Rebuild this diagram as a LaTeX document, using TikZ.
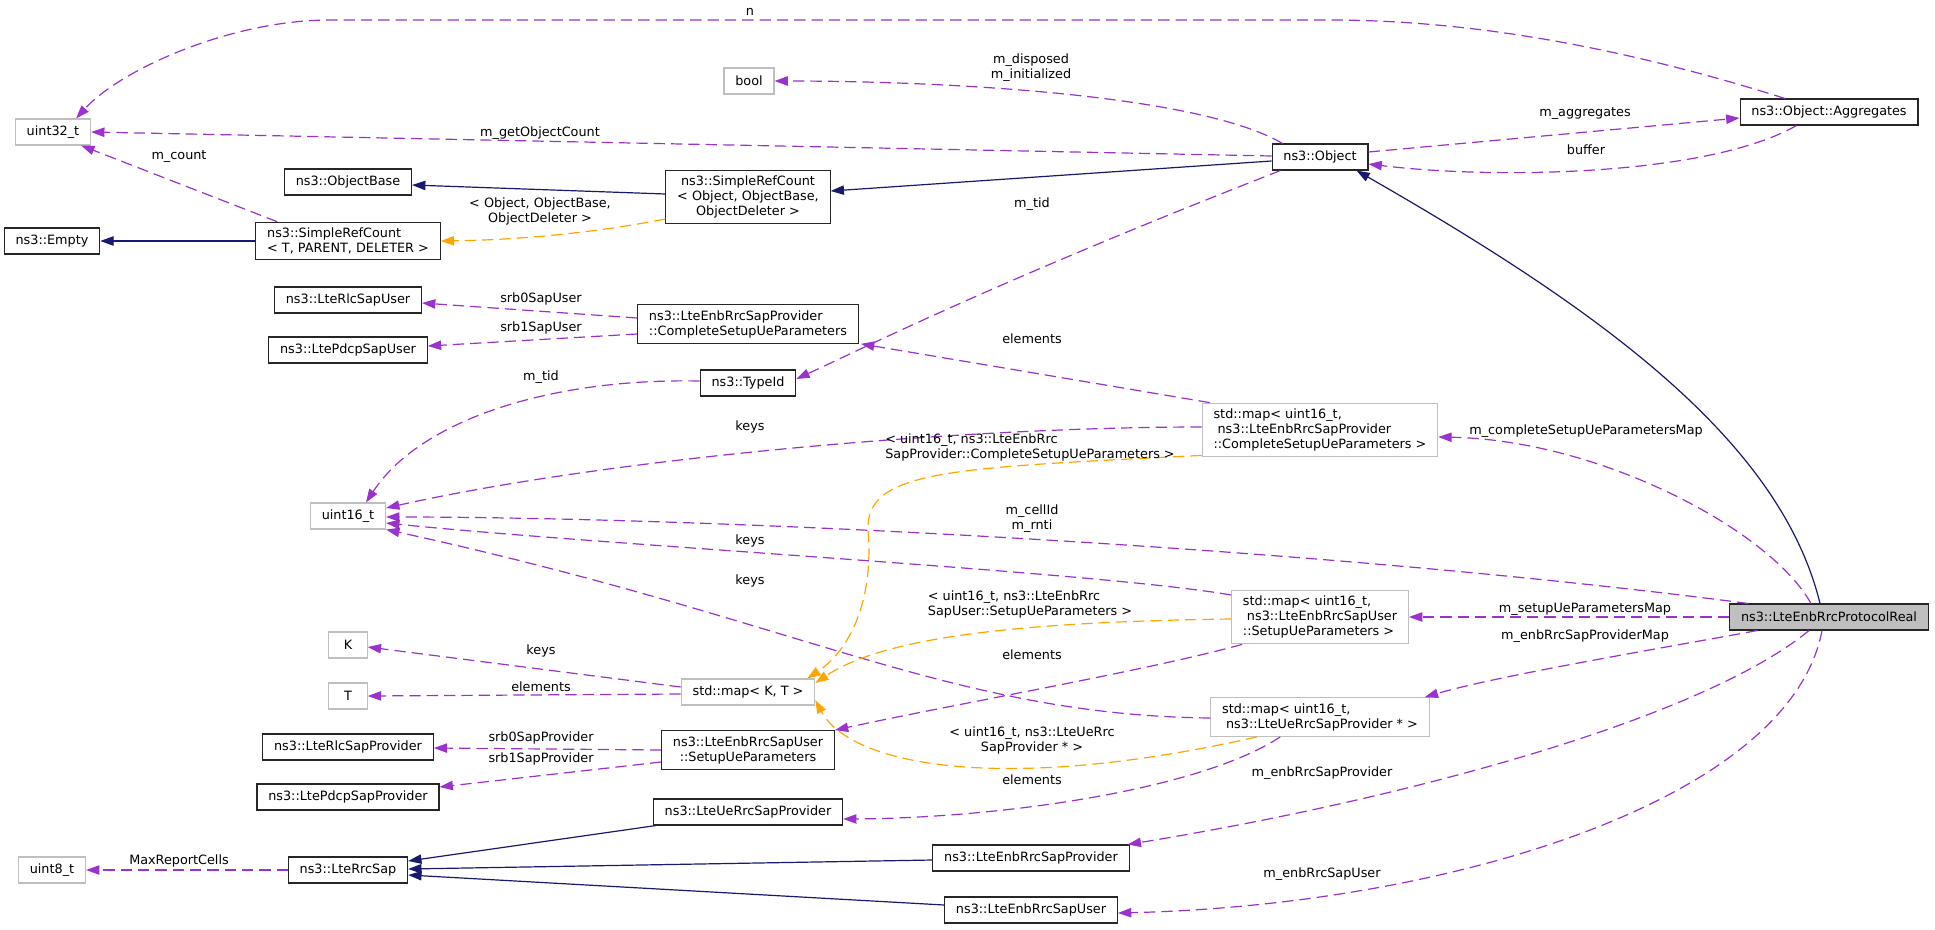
\documentclass[tikz,border=0pt]{standalone}
\usepackage{fontspec}
\setmainfont{DejaVu Sans}
\usetikzlibrary{arrows.meta,calc}
\definecolor{memcol}{HTML}{9A32CD}
\definecolor{tplcol}{HTML}{FFA500}
\definecolor{inhcol}{HTML}{191970}
\definecolor{boxgray}{HTML}{BFBFBF}
\tikzset{
  txt/.style={font=\fontsize{9.6}{11.3}\selectfont},
  cls/.style={txt, draw=black!85, fill=white, line width=0.8pt, inner xsep=8.5pt,
              inner ysep=4.2pt, minimum height=19.5pt, minimum width=28.8pt},
  ext/.style={cls, draw=boxgray},
  mainbox/.style={cls, fill=boxgray},
  lbl/.style={txt, inner sep=0pt},
  tip/.style={-{Triangle[length=10pt,width=7pt]}},
  mem/.style={tip, draw=memcol, line width=0.9pt, dash pattern=on 8.5pt off 4.5pt},
  tpl/.style={mem, draw=tplcol},
  inh/.style={tip, draw=inhcol, line width=0.9pt},
}
\begin{document}
\begin{tikzpicture}[x=0.75pt, y=-0.75pt]
\fill[white] (0,0) rectangle (1935,929);
\useasboundingbox (0,0) rectangle (1935,929);
% classes
\node[ext] (u32) at (53,132) {uint32\_t};
\node[ext] (boolt) at (749,81) {bool};
\node[cls] (objbase) at (348,182) {ns3::ObjectBase};
\node[cls] (empty) at (52,241) {ns3::Empty};
\node[cls, align=left] (srct) at (348,241) {ns3::SimpleRefCount\\< T, PARENT, DELETER >};
\node[cls, align=center] (srcobj) at (748,197) {ns3::SimpleRefCount\\< Object, ObjectBase,\\ObjectDeleter >};
\node[cls] (obj) at (1320,157) {ns3::Object};
\node[cls] (aggr) at (1829,112) {ns3::Object::Aggregates};
\node[cls] (rlcuser) at (348,300) {ns3::LteRlcSapUser};
\node[cls] (pdcpuser) at (348,350) {ns3::LtePdcpSapUser};
\node[cls, align=left] (csup) at (748,324) {ns3::LteEnbRrcSapProvider\\::CompleteSetupUeParameters};
\node[cls] (typeid) at (748,383) {ns3::TypeId};
\node[ext, align=left] (cmap) at (1320,430) {std::map< uint16\_t,\\\hspace*{3pt}ns3::LteEnbRrcSapProvider\\::CompleteSetupUeParameters >};
\node[ext] (u16) at (348,516) {uint16\_t};
\node[ext, align=left] (smap) at (1320,617) {std::map< uint16\_t,\\\hspace*{3pt}ns3::LteEnbRrcSapUser\\::SetupUeParameters >};
\node[mainbox] (proto) at (1829,617) {ns3::LteEnbRrcProtocolReal};
\node[ext] (ktype) at (348,645) {K};
\node[ext] (ttype) at (348,696) {T};
\node[ext] (kt) at (748,692) {std::map< K, T >};
\node[cls] (rlcprov) at (348,747) {ns3::LteRlcSapProvider};
\node[cls] (pdcpprov) at (348,797) {ns3::LtePdcpSapProvider};
\node[cls, align=center] (setupue) at (748,750) {ns3::LteEnbRrcSapUser\\::SetupUeParameters};
\node[ext, align=left] (umap) at (1320,717) {std::map< uint16\_t,\\\hspace*{3pt}ns3::LteUeRrcSapProvider * >};
\node[cls] (ueprov) at (748,812) {ns3::LteUeRrcSapProvider};
\node[ext] (u8) at (52,870) {uint8\_t};
\node[cls] (rrcsap) at (348,870) {ns3::LteRrcSap};
\node[cls] (eprov) at (1031,858) {ns3::LteEnbRrcSapProvider};
\node[cls] (euser) at (1031,910) {ns3::LteEnbRrcSapUser};
% members
\draw[mem] ($(aggr.north)+(-44,0)$) .. controls (1600,40) and (1450,20) .. (1330,20) -- (330,20)
  .. controls (230,20) and (120,70) .. ($(u32.north east)+(-15,0)$);
\draw[mem] ($(obj.west)+(0,-1)$) -- (u32.east);
\draw[mem] ($(obj.north west)+(11,0)$) .. controls (1200,95) and (950,81) .. (boolt.east);
\draw[mem] ($(srct.north west)+(22,0)$) -- ($(u32.south east)+(-10,0)$);
\draw[mem] ($(obj.south west)+(9,0)$) .. controls (1000,280) and (870,345) .. ($(typeid.east)+(0,-4)$);
\draw[mem] ($(obj.east)+(0,-5)$) -- ($(aggr.west)+(0,6)$);
\draw[mem] ($(aggr.south west)+(57,0)$) .. controls (1710,175) and (1500,180) .. ($(obj.east)+(0,7)$);
\draw[mem] ($(csup.west)+(0,-6)$) -- ($(rlcuser.east)+(0,3)$);
\draw[mem] ($(csup.west)+(0,10)$) -- ($(pdcpuser.east)+(0,-4)$);
\draw[mem] ($(typeid.west)+(0,-2)$) .. controls (550,378) and (420,420) .. ($(u16.north)+(18,0)$);
\draw[mem] ($(cmap.north west)+(8,0)$) -- ($(csup.south east)+(2,0)$);
\draw[mem] ($(cmap.west)+(0,-3)$) .. controls (950,427) and (600,460) .. ($(u16.east)+(0,-8)$);
\draw[mem] ($(proto.north)+(-18,0)$) .. controls (1770,530) and (1600,440) .. ($(cmap.east)+(0,7)$);
\draw[mem] ($(proto.north west)+(19,0)$) .. controls (1300,545) and (700,517) .. ($(u16.east)+(0,1)$);
\draw[mem] ($(smap.west)+(0,-22)$) .. controls (1100,572) and (600,545) .. ($(u16.east)+(0,7)$);
\draw[mem] ($(umap.west)+(0,1)$) .. controls (950,715) and (800,620) .. (u16.south east);
\draw[mem] (proto.west) -- (smap.east);
\draw[mem] ($(smap.south west)+(11,0)$) .. controls (1150,670) and (950,705) .. (setupue.north east);
\draw[mem] ($(kt.west)+(0,-5)$) -- ($(ktype.east)+(0,2)$);
\draw[mem] ($(kt.west)+(0,2)$) -- (ttype.east);
\draw[mem] (setupue.west) -- ($(rlcprov.east)+(0,1)$);
\draw[mem] ($(setupue.west)+(0,12)$) -- ($(pdcpprov.east)+(0,-10)$);
\draw[mem] ($(proto.south west)+(28,0)$) .. controls (1680,645) and (1500,675) .. ($(umap.north east)+(-5,0)$);
\draw[mem] ($(umap.south west)+(70,0)$) .. controls (1200,790) and (1000,818) .. ($(ueprov.east)+(0,7)$);
\draw[mem] ($(proto.south)+(-20,0)$) .. controls (1700,720) and (1400,800) .. ($(eprov.north east)+(-2,0)$);
\draw[mem] ($(proto.south)+(-7,0)$) .. controls (1790,800) and (1450,905) .. ($(euser.east)+(0,3)$);
\draw[mem] (rrcsap.west) -- (u8.east);
% template instances
\draw[tpl] ($(srcobj.west)+(0,22)$) .. controls (600,232) and (520,240) .. (srct.east);
\draw[tpl] ($(cmap.south west)+(0,-2)$) .. controls (950,468) and (866,470) .. (868,530)
  .. controls (874,600) and (850,650) .. ($(kt.north east)+(-8,0)$);
\draw[tpl] ($(smap.west)+(0,2)$) .. controls (1000,622) and (880,640) .. ($(kt.east)+(0,-9)$);
\draw[tpl] ($(umap.south west)+(47,0)$) .. controls (1000,795) and (850,765) .. ($(kt.east)+(0,8)$);
% inheritance
\draw[inh] ($(obj.west)+(0,4)$) -- ($(srcobj.east)+(0,-6)$);
\draw[inh] ($(srcobj.west)+(0,-3)$) -- ($(objbase.east)+(0,3)$);
\draw[inh] (srct.west) -- (empty.east);
\draw[inh] ($(proto.north)+(-9,0)$) .. controls (1780,440) and (1600,310) .. ($(obj.south east)+(-12,0)$);
\draw[inh] ($(ueprov.south west)+(3,0)$) -- ($(rrcsap.east)+(0,-9)$);
\draw[inh] ($(eprov.west)+(0,2)$) -- ($(rrcsap.east)+(0,-1)$);
\draw[inh] ($(euser.west)+(0,-5)$) -- ($(rrcsap.east)+(0,5)$);
% edge labels
\node[lbl] (l-n) at (750,12) {n};
\node[lbl, align=center] (l-disp) at (1031,68) {m\_disposed\\m\_initialized};
\node[lbl] (l-goc) at (540,133) {m\_getObjectCount};
\node[lbl] (l-cnt) at (179,157) {m\_count};
\node[lbl, align=center] (l-srct) at (540,211) {< Object, ObjectBase,\\ObjectDeleter >};
\node[lbl] (l-aggr) at (1585,114) {m\_aggregates};
\node[lbl] (l-buf) at (1586,150) {buffer};
\node[lbl] (l-tid1) at (1032,204) {m\_tid};
\node[lbl] (l-s0u) at (541,299) {srb0SapUser};
\node[lbl] (l-s1u) at (541,328) {srb1SapUser};
\node[lbl] (l-tid2) at (541,377) {m\_tid};
\node[lbl] (l-el1) at (1032,339) {elements};
\node[lbl] (l-k1) at (750,427) {keys};
\node[lbl, align=left] (l-cmap) at (1030,447) {< uint16\_t, ns3::LteEnbRrc\\SapProvider::CompleteSetupUeParameters >};
\node[lbl] (l-csm) at (1586,431) {m\_completeSetupUeParametersMap};
\node[lbl, align=center] (l-cell) at (1032,519) {m\_cellId\\m\_rnti};
\node[lbl] (l-k2) at (750,541) {keys};
\node[lbl] (l-k3) at (750,581) {keys};
\node[lbl, align=left] (l-smap) at (1030,604) {< uint16\_t, ns3::LteEnbRrc\\SapUser::SetupUeParameters >};
\node[lbl] (l-sum) at (1585,609) {m\_setupUeParametersMap};
\node[lbl] (l-epm) at (1585,636) {m\_enbRrcSapProviderMap};
\node[lbl] (l-k4) at (541,651) {keys};
\node[lbl] (l-el2) at (541,687) {elements};
\node[lbl] (l-el3) at (1032,655) {elements};
\node[lbl, align=center] (l-umap) at (1032,740) {< uint16\_t, ns3::LteUeRrc\\SapProvider * >};
\node[lbl] (l-s0p) at (541,738) {srb0SapProvider};
\node[lbl] (l-s1p) at (541,759) {srb1SapProvider};
\node[lbl] (l-el4) at (1032,780) {elements};
\node[lbl] (l-ep) at (1322,773) {m\_enbRrcSapProvider};
\node[lbl] (l-mrc) at (179,861) {MaxReportCells};
\node[lbl] (l-eu) at (1322,874) {m\_enbRrcSapUser};
\end{tikzpicture}
\end{document}
